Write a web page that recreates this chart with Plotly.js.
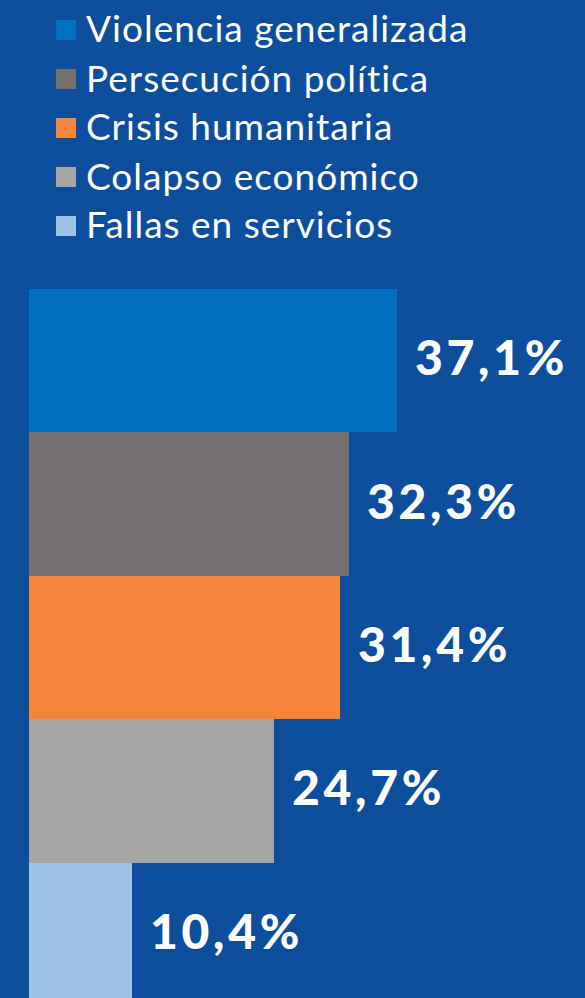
<!DOCTYPE html>
<html>
<head>
<meta charset="utf-8">
<script src="https://cdn.plot.ly/plotly-3.0.1.min.js"></script>
<style>
  html, body { margin: 0; padding: 0; background: #0c4e9b; }
  #chart { width: 585px; height: 998px; }
  .annotation-text[data-unformatted$="%"] { letter-spacing: 3.7px; }
  .annotation-text:not([data-unformatted$="%"]) { letter-spacing: 1px; }
</style>
</head>
<body>
<div id="chart"></div>
<script>
// ---- data ----
const categories = [
  "Violencia generalizada",
  "Persecución política",
  "Crisis humanitaria",
  "Colapso económico",
  "Fallas en servicios"
];
const values = [37.1, 32.3, 31.4, 24.7, 10.4];
const colors = ["#0070c0", "#767171", "#f4853b", "#a6a6a6", "#9dc3e6"];

// ---- layout geometry (pixels) ----
const W = 585, H = 998;
const M = { l: 29, r: 0, t: 289, b: 0 };
const plotW = W - M.l - M.r, plotH = H - M.t - M.b;
const pxPerUnit = 368 / 37.1;
const xMax = plotW / pxPerUnit;
const barPx = 143.4;
const yBottom = -0.5 + plotH / barPx;

const paperX = px => (px - M.l) / plotW;
const paperY = py => (H - M.b - py) / plotH;

const fmt = v => v.toFixed(1).replace('.', ',') + '%';

const trace = {
  type: 'bar',
  orientation: 'h',
  y: categories.map((c, i) => i),
  x: values,
  width: 1,
  marker: { color: colors, line: { width: 0 } },
  hoverinfo: 'skip',
  showlegend: false
};

const annotations = [];
const shapes = [];

// value labels
values.forEach((v, i) => {
  annotations.push({
    x: v, y: i, xref: 'x', yref: 'y',
    xanchor: 'left', yanchor: 'middle',
    xshift: 16, yshift: 4,
    text: fmt(v), showarrow: false,
    font: { family: 'Lato, sans-serif', size: 48, color: '#ffffff', weight: 900 }
  });
});

// legend (custom)
const rowTop = 20, rowGap = 49, sq = 20;
categories.forEach((c, i) => {
  const top = rowTop + i * rowGap;
  shapes.push({
    type: 'rect', xref: 'paper', yref: 'paper',
    x0: paperX(56), x1: paperX(56 + sq),
    y0: paperY(top + sq), y1: paperY(top),
    fillcolor: colors[i], line: { width: 0 }
  });
  annotations.push({
    x: paperX(84), y: paperY(top + sq / 2), xref: 'paper', yref: 'paper',
    xanchor: 'left', yanchor: 'middle', yshift: 2,
    text: c, showarrow: false,
    font: { family: 'Lato, sans-serif', size: 37, color: '#ffffff' }
  });
});

const layout = {
  width: W, height: H,
  margin: M,
  paper_bgcolor: '#0c4e9b',
  plot_bgcolor: '#0c4e9b',
  xaxis: { range: [0, xMax], visible: false, fixedrange: true },
  yaxis: { range: [yBottom, -0.5], visible: false, fixedrange: true },
  bargap: 0,
  showlegend: false,
  annotations: annotations,
  shapes: shapes
};

Plotly.newPlot('chart', [trace], layout, { displayModeBar: false, staticPlot: true });
</script>
</body>
</html>
